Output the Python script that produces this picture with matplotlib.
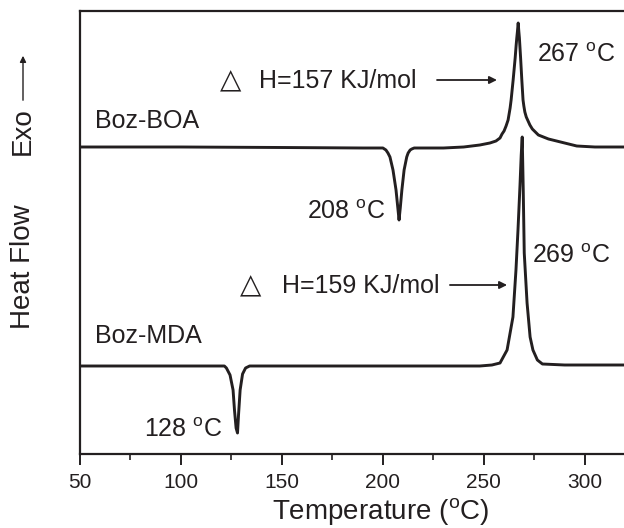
import matplotlib
matplotlib.use("Agg")
import matplotlib.pyplot as plt
from matplotlib.ticker import MultipleLocator

plt.rcParams['font.family'] = ['Liberation Sans', 'DejaVu Sans']
plt.rcParams['mathtext.fontset'] = 'custom'
plt.rcParams['mathtext.rm'] = 'Liberation Sans'
plt.rcParams['mathtext.it'] = 'Liberation Sans:italic'

# ---- data (temperature in degC, heat flow in arbitrary units) ----
boa_T = [50, 100, 150, 190, 200, 201.5, 202.5, 203.5, 205, 206.5, 207.5, 208,
         208.6, 209.4, 210.5, 211.8, 212.5, 213.5, 214.3, 215.5, 230, 240, 248,
         253, 256, 258, 259, 260, 261, 262, 263, 263.5, 264, 264.5, 265, 265.5,
         266, 266.3, 266.6, 267, 267.3, 267.6, 267.9, 268.2, 268.5, 268.8,
         269.1, 269.4, 269.8, 270.3, 271, 271.9, 272.8, 274, 275, 277, 282,
         288, 296, 305, 319.4]
boa_hf = [30.7, 30.7, 30.65, 30.6, 30.6, 30.4, 30.1, 29.7, 28.4, 26.4, 24.4, 23.4,
          24.6, 26.4, 28.4, 29.7, 30.1, 30.4, 30.5, 30.6, 30.6, 30.7, 30.9,
          31.1, 31.3, 31.6, 32.0, 32.3, 32.8, 33.4, 34.6, 35.4, 36.4, 37.4, 38.5, 39.6,
          40.9, 41.6, 42.2, 43.1, 42.3, 41.6, 40.6, 39.6, 38.5, 37.4,
          36.4, 35.4, 34.8, 34.2, 33.7, 33.3, 32.9, 32.5, 32.3, 31.9, 31.5,
          31.2, 30.8, 30.7, 30.7]

mda_T = [50, 100, 121.5, 122.5, 124.3, 125.8, 126.5, 127.3, 128, 128.5, 129.3,
         130.5, 132, 134, 200, 248, 254, 258, 261.5, 264.4, 265.9, 266.9,
         267.9, 268.5, 269, 269.5, 270, 271.4, 272.9, 274.3, 276.5, 279, 290,
         319.4]
mda_hf = [8.8, 8.8, 8.8, 8.6, 7.9, 6.4, 4.4, 2.6, 2.1, 3.9, 6.4,
          8.0, 8.6, 8.8, 8.8, 8.8, 8.9, 9.1, 10.4, 13.7, 18.4, 22.4,
          26.9, 29.9, 31.7, 26.4, 20.1, 15.1, 11.7, 10.4, 9.4, 9.0, 8.9,
          8.9]

series_names = ["Boz-BOA", "Boz-MDA"]
peak_labels = ["208", "267", "128", "269"]
enthalpy_labels = ["H=157 KJ/mol", "H=159 KJ/mol"]
x_ticks = [50, 100, 150, 200, 250, 300]

C = '#231f20'

fig = plt.figure(figsize=(6.24, 5.28), dpi=100)
ax = fig.add_axes([80/624, 1-454/528, 544/624, 443/528])

ax.plot(boa_T, boa_hf, color=C, lw=2.1, solid_joinstyle='round')
ax.plot(mda_T, mda_hf, color=C, lw=2.1, solid_joinstyle='round')

ax.set_xlim(50, 319.4)
ax.set_ylim(0, 44.3)
ax.set_xticks(x_ticks)
ax.xaxis.set_minor_locator(MultipleLocator(25))
ax.set_yticks([])
ax.spines['right'].set_visible(False)
for s in ['left', 'top', 'bottom']:
    ax.spines[s].set_linewidth(1.6)
    ax.spines[s].set_color(C)
ax.tick_params(axis='x', which='major', direction='out', length=8, width=1.4,
               labelsize=15, pad=6, colors=C, top=False)
ax.tick_params(axis='x', which='minor', direction='out', length=4, width=1.2,
               colors=C, top=False)
ax.set_xlabel('Temperature ($^{\\rm o}$C)', fontsize=20, color=C)
ax.xaxis.set_label_coords(0.553, -0.095)

fs = 18
deg = ' $^{\\rm o}$C'
# series labels
ax.text(57.5, 32.6, series_names[0], fontsize=fs, color=C, ha='left', va='baseline')
ax.text(57.3, 11.1, series_names[1], fontsize=fs, color=C, ha='left', va='baseline')
# peak labels
ax.text(201.1, 23.5, peak_labels[0] + deg, fontsize=fs, color=C, ha='right', va='baseline')
ax.text(276.3, 39.2, peak_labels[1] + deg, fontsize=fs, color=C, ha='left', va='baseline')
ax.text(120.4, 1.7, peak_labels[2] + deg, fontsize=fs, color=C, ha='right', va='baseline')
ax.text(273.8, 19.1, peak_labels[3] + deg, fontsize=fs, color=C, ha='left', va='baseline')
# enthalpy annotations
ax.text(119.4, 36.6, '\u25b3', fontsize=20, color=C, ha='left', va='baseline',
        family='DejaVu Sans')
ax.text(138.7, 36.6, enthalpy_labels[0], fontsize=fs, color=C, ha='left', va='baseline')
ax.annotate('', xy=(256.5, 37.4), xytext=(226.8, 37.4),
            arrowprops=dict(arrowstyle='-|>', color=C, lw=1.3, mutation_scale=11,
                            shrinkA=0, shrinkB=0))
ax.text(129.3, 16.1, '\u25b3', fontsize=20, color=C, ha='left', va='baseline',
        family='DejaVu Sans')
ax.text(150.1, 16.1, enthalpy_labels[1], fontsize=fs, color=C, ha='left', va='baseline')
ax.annotate('', xy=(261.5, 16.9), xytext=(233.2, 16.9),
            arrowprops=dict(arrowstyle='-|>', color=C, lw=1.3, mutation_scale=11,
                            shrinkA=0, shrinkB=0))

# y label: Heat Flow  Exo ->
fig.text(23/624, 1-267/528, 'Heat Flow', rotation=90, fontsize=20, color=C,
         ha='center', va='center')
fig.text(23/624, 1-131/528, 'Exo', rotation=90, fontsize=20, color=C,
         ha='center', va='center')
fig.add_artist(matplotlib.patches.FancyArrowPatch(
    (23/624, 1-103/528), (23/624, 1-53/528), transform=fig.transFigure,
    arrowstyle='-|>', color=C, lw=1.0, mutation_scale=9))

fig.savefig('out.png', dpi=100)
